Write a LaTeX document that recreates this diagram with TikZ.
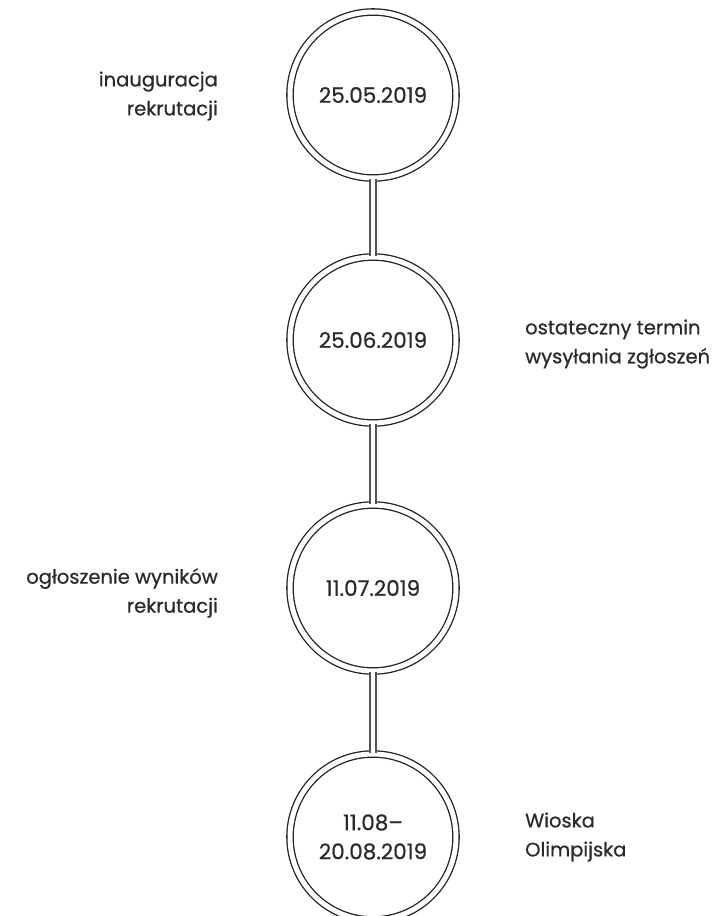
\documentclass[tikz,border=0pt]{standalone}
\usepackage{fontspec}
\setmainfont{Poppins}[FakeBold=0.6]
\begin{document}
\begin{tikzpicture}[x=1pt,y=-1pt,
  ring/.style={circle,draw=ringcol,line width=1.3pt,minimum size=166pt,inner sep=0pt,
    double=white,double distance=5pt,
    font=\fontsize{21.5}{29}\selectfont,text=txtcol,align=center},
  lbl/.style={font=\fontsize{19.5}{29}\selectfont,text=txtcol,inner sep=0pt},
  rail/.style={draw=railcol,line width=1.4pt,double=white,double distance=4.6pt}]
\definecolor{ringcol}{HTML}{222222}
\definecolor{txtcol}{HTML}{2A2A2A}
\definecolor{railcol}{HTML}{555555}
\useasboundingbox (0,0) rectangle (723,916);
\node[ring] (c1) at (373,95) {25.05.2019};
\node[ring] (c2) at (373,340) {25.06.2019};
\node[ring] (c3) at (373,588) {11.07.2019};
\node[ring] (c4) at (373,837) {11.08–\\20.08.2019};
\draw[rail] (c1.south) -- (c2.north);
\draw[rail] (c2.south) -- (c3.north);
\draw[rail] (c3.south) -- (c4.north);
\node[lbl,anchor=east,align=right] (l1) at (218,96) {inauguracja\\rekrutacji};
\node[lbl,anchor=west,align=left] (l2) at (525,344) {ostateczny termin\\wysyłania zgłoszeń};
\node[lbl,anchor=east,align=right] (l3) at (218,593) {ogłoszenie wyników\\rekrutacji};
\node[lbl,anchor=west,align=left] (l4) at (525,837) {Wioska\\Olimpijska};
\end{tikzpicture}
\end{document}
